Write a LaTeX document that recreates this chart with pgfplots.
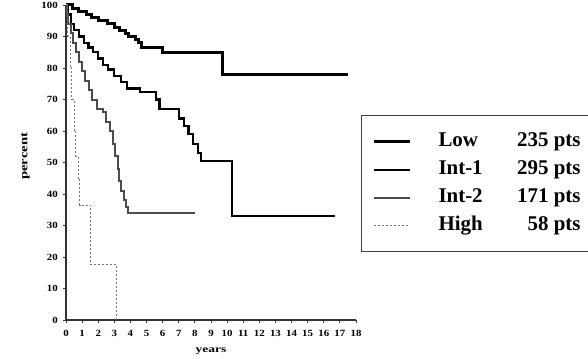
\documentclass[border=0pt]{standalone}
\usepackage{pgfplots}
\pgfplotsset{compat=1.18}
\usepackage{fontspec}
\setmainfont{Liberation Serif}
\begin{document}
\begin{tikzpicture}[x=1bp,y=1bp]
\useasboundingbox (-66,-38) rectangle (522,320);
\begin{axis}[
  at={(0,0)}, anchor=south west, scale only axis,
  width=290bp, height=315bp,
  xmin=0, xmax=18, ymin=0, ymax=100,
  axis x line*=bottom, axis y line*=left,
  axis line style={line width=1.2bp, black!80, -},
  xtick={0,...,18}, ytick={0,10,...,100},
  tick style={black!80, line width=0.8bp},
  tick align=outside, major tick length=3bp,
  ticklabel style={font=\bfseries\fontsize{9.5}{10}\selectfont, xscale=1.15},
  xticklabel style={yshift=-4bp},
  yticklabel style={xshift=-1bp},
  /pgf/number format/assume math mode=true,
  xlabel={years}, ylabel={percent},
  xlabel style={font=\bfseries\fontsize{10}{11}\selectfont, xscale=1.35, at={(axis description cs:0.5,-0.10)}, anchor=center},
  ylabel style={font=\bfseries\fontsize{11}{12}\selectfont, xscale=1.35, at={(axis description cs:-0.14,0.52)}, anchor=center},
  clip=false,
  legend image code/.code={\draw[#1] (0bp,0bp) -- (36bp,0bp);},
  legend cell align=left,
  legend style={at={(1.017,0.65)}, anchor=north west,
    draw=black!75, line width=1.2bp, inner xsep=11bp, inner ysep=12bp,
    font=\bfseries\fontsize{21}{24}\selectfont,
    nodes={inner sep=0pt, text height=19bp, text depth=9bp},
    /tikz/every odd column/.append style={column sep=27bp},
    row sep=0pt},
]
\addplot[const plot, black, line width=3bp] coordinates {
(0,100) (0.4,99) (0.8,98) (1.3,97) (1.6,96) (2.0,95) (2.6,94) (3.0,93) (3.3,92) (3.7,91) (3.9,90) (4.3,89) (4.5,88) (4.7,86.5) (6.0,85) (9.7,78) (17.5,78)};
\addlegendentry{\makebox[142bp]{Low\hfill 235 pts}}
\addplot[const plot, black, line width=2.2bp] coordinates {
(0,100) (0.1,97) (0.3,94) (0.5,92) (0.8,90) (1.1,88) (1.4,86.5) (1.7,85) (2.0,83) (2.3,81) (2.6,79.5) (3.0,77.5) (3.4,75.5) (3.8,73.5) (4.6,72.5) (5.6,70) (5.8,67) (7.0,64) (7.3,61.5) (7.6,59) (7.9,56) (8.2,53) (8.4,50.5) (10.3,33) (16.7,33)};
\addlegendentry{\makebox[142bp]{Int-1\hfill 295 pts}}
\addplot[const plot, black!70, line width=2bp] coordinates {
(0,100) (0.05,97) (0.15,94) (0.3,91) (0.45,88) (0.6,85) (0.8,82) (1.0,79) (1.2,76) (1.4,73) (1.6,70) (1.9,67) (2.3,66) (2.5,63) (2.7,60) (2.9,56) (3.05,52) (3.2,48) (3.3,44) (3.4,41) (3.6,38) (3.75,36) (3.85,34) (8.0,34)};
\addlegendentry{\makebox[142bp]{Int-2\hfill 171 pts}}
\addplot[const plot, black!55, line width=1bp, dash pattern=on 2bp off 2bp] coordinates {
(0,100) (0.1,90) (0.25,80) (0.35,70) (0.5,60) (0.6,52) (0.75,45) (0.85,36.5) (1.55,17.5) (3.15,0) (3.15,0)};
\addlegendentry{\makebox[142bp]{High\hfill 58 pts}}
\end{axis}
\end{tikzpicture}
\end{document}
